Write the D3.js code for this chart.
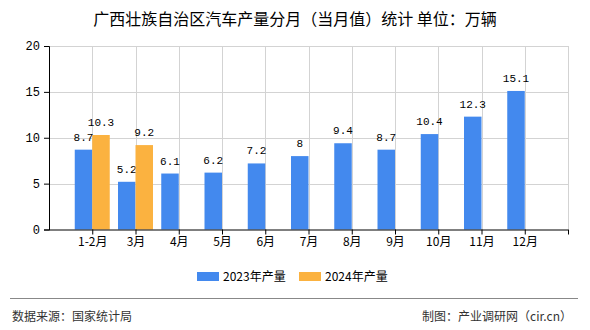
<!DOCTYPE html>
<html><head><meta charset="utf-8">
<script src="https://cdn.jsdelivr.net/npm/d3@7"></script>
<style>body{margin:0;background:#fff}svg{display:block}</style>
</head><body>
<script>
const categories = ["1-2月","3月","4月","5月","6月","7月","8月","9月","10月","11月","12月"];
const seriesNames = ["2023年产量","2024年产量"];
const values2023 = [8.7,5.2,6.1,6.2,7.2,8,9.4,8.7,10.4,12.3,15.1];
const values2024 = [10.3,9.2,null,null,null,null,null,null,null,null,null];
const yTicks = [0,5,10,15,20];
const colors = ["#4389ee","#fbb240"];

(function(){
const W=590,H=330;
const svg=d3.select("body").append("svg").attr("width",W).attr("height",H);
const mLeft=49,mRight=568,mTop=46,mBottom=229.5;
const bandW=(mRight-mLeft)/(categories.length+1);
const x=d3.scalePoint().domain([...categories,""]).range([mLeft+bandW,mRight]);
const y=d3.scaleLinear().domain([0,20]).range([mBottom,mTop]);
const sub=d3.scaleBand().domain(seriesNames).range([-17.5,17.5]);

svg.append("text").attr("x",295).attr("y",25).attr("text-anchor","middle")
  .attr("font-family","Noto Sans CJK SC").attr("font-size",16).attr("fill","#000")
  .text("广西壮族自治区汽车产量分月（当月值）统计 单位：万辆");

svg.append("g").selectAll("line").data(yTicks.filter(d=>d>0)).join("line")
  .attr("x1",mLeft).attr("x2",mRight).attr("y1",d=>Math.round(y(d))+0.5).attr("y2",d=>Math.round(y(d))+0.5)
  .attr("stroke","#d3d3d3").attr("stroke-width",1);
svg.append("g").selectAll("line").data(x.domain()).join("line")
  .attr("x1",d=>Math.round(x(d))+0.5).attr("x2",d=>Math.round(x(d))+0.5).attr("y1",mTop).attr("y2",mBottom)
  .attr("stroke","#d3d3d3").attr("stroke-width",1);

const data=[values2023,values2024];
data.forEach((vals,si)=>{
  const pts=categories.map((c,i)=>({c,v:vals[i]})).filter(d=>d.v!=null);
  svg.append("g").selectAll("rect").data(pts).join("rect")
    .attr("x",d=>x(d.c)+sub(seriesNames[si])).attr("width",sub.bandwidth())
    .attr("y",d=>y(d.v)).attr("height",d=>y(0)-y(d.v)).attr("fill",colors[si]);
  svg.append("g").selectAll("text").data(pts).join("text")
    .attr("x",d=>x(d.c)+sub(seriesNames[si])+sub.bandwidth()/2).attr("y",d=>y(d.v)-9)
    .attr("text-anchor","middle").attr("font-family","Liberation Mono, DejaVu Sans Mono").attr("font-size",11).attr("fill","#000")
    .text(d=>d.v);
});

const yAxis=svg.append("g").attr("transform",`translate(${mLeft},0)`)
  .call(d3.axisLeft(y).tickValues(yTicks).tickSize(5).tickPadding(4));
yAxis.select(".domain").attr("stroke","#000");
yAxis.selectAll("text").attr("font-family","Liberation Mono, DejaVu Sans Mono").attr("font-size",12).attr("fill","#000");
const xAxis=svg.append("g").attr("transform",`translate(0,${mBottom})`)
  .call(d3.axisBottom(x).tickSize(5).tickPadding(3).tickSizeOuter(0));
xAxis.select(".domain").attr("stroke","#000").attr("d",`M${mLeft},0.5H${mRight}`);
xAxis.selectAll("text").attr("font-family","Noto Sans CJK SC").attr("font-size",12).attr("fill","#000");

const lg=svg.append("g");
[[197,223],[299,325]].forEach((p,i)=>{
  lg.append("rect").attr("x",p[0]).attr("y",272).attr("width",22).attr("height",9).attr("fill",colors[i]);
  lg.append("text").attr("x",p[1]).attr("y",281).attr("font-family","Noto Sans CJK SC").attr("font-size",12).attr("fill","#000").text(seriesNames[i]);
});

svg.append("line").attr("x1",10).attr("x2",578).attr("y1",298.5).attr("y2",298.5).attr("stroke","#888").attr("stroke-width",1);
svg.append("text").attr("x",12).attr("y",321).attr("font-family","Noto Sans CJK SC").attr("font-size",12).attr("fill","#333").text("数据来源：国家统计局");
svg.append("text").attr("x",572).attr("y",321).attr("text-anchor","end").attr("font-family","Noto Sans CJK SC").attr("font-size",12).attr("fill","#333").text("制图：产业调研网（cir.cn）");
})();
</script>
</body></html>
